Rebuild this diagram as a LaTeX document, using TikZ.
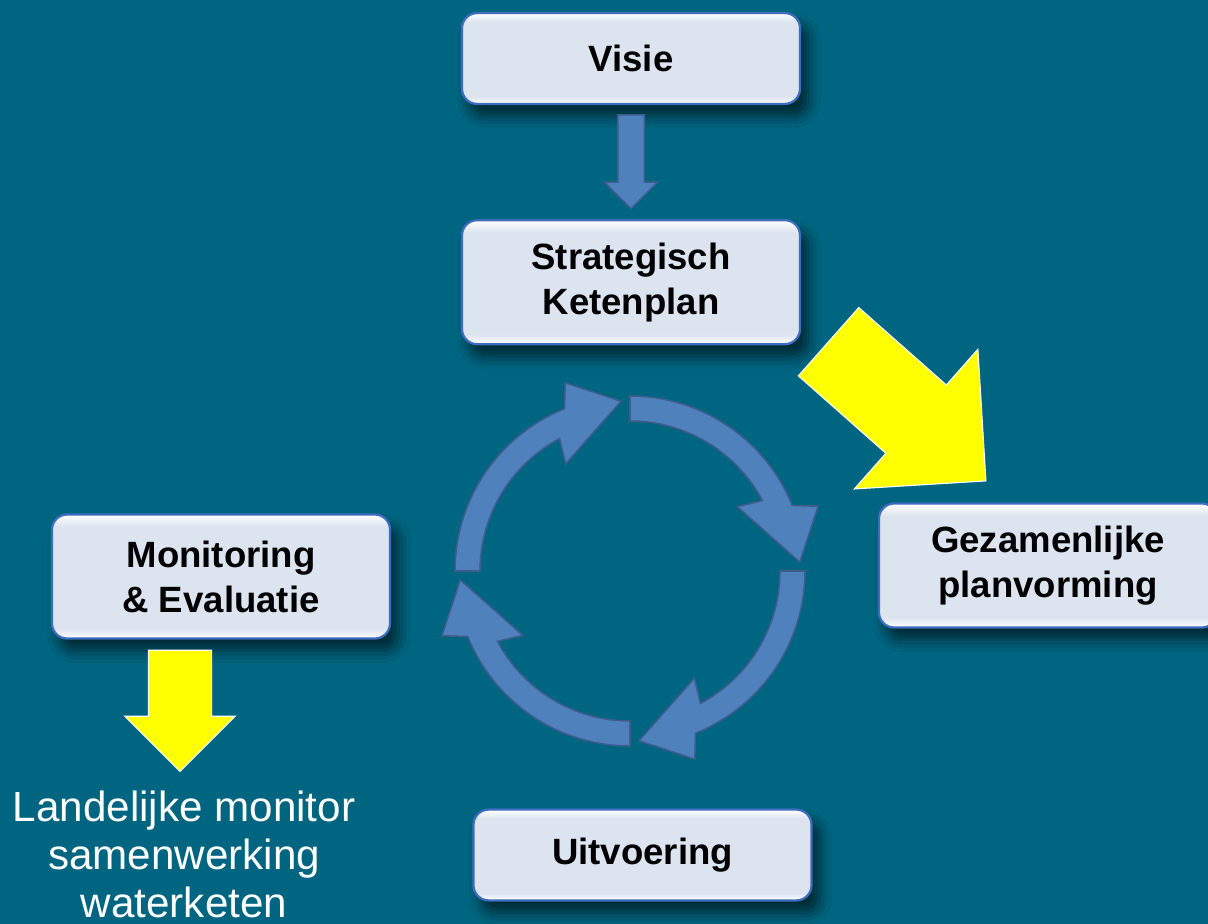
\documentclass[tikz,border=0pt]{standalone}
\usepackage{fontspec}
\setmainfont{Liberation Sans}
\usepackage{xcolor}
\usetikzlibrary{positioning,calc,shapes.arrows,shadows.blur}

\definecolor{bgteal}{RGB}{0,101,128}
\definecolor{boxfill}{RGB}{220,228,240}
\definecolor{boxline}{RGB}{62,108,190}
\definecolor{cycfill}{RGB}{79,129,189}
\definecolor{cycline}{RGB}{62,92,140}
\definecolor{signyellow}{RGB}{255,255,0}

% flat box with white rims
\pgfdeclareverticalshading{boxshade}{100bp}{color(0bp)=(white); color(25bp)=(white);
	color(29bp)=(boxfill); color(70bp)=(boxfill); color(75bp)=(white); color(100bp)=(white)}

\tikzset{
	stagebox/.style={rounded corners=0.38cm, draw=boxline, line width=1.6pt,
		shading=boxshade,
		minimum width=8.45cm, minimum height=2.27cm, align=center,
		font=\fontsize{26}{32}\selectfont\bfseries,
		blur shadow={shadow xshift=0.2cm, shadow yshift=-0.3cm, shadow blur radius=0.3cm, shadow opacity=60}},
	tallbox/.style={minimum height=3.1cm},
	blockarrow/.style={single arrow, anchor=tail, single arrow tip angle=90, inner xsep=0pt},
	bluearrow/.style={blockarrow, fill=cycfill, draw=cycline, line width=1.1pt},
	yellowarrow/.style={blockarrow, fill=signyellow, draw=white, line width=0.8pt},
	cycarrow/.style={fill=cycfill, draw=cycline, line width=1.1pt, line join=miter},
	landtext/.style={text=white, align=center, inner sep=0pt, font=\fontsize{30}{34}\selectfont},
}

\begin{document}
\begin{tikzpicture}[x=0.025cm,y=-0.025cm]
	\fill[bgteal] (0,0) rectangle (1208,924);
	\useasboundingbox (0,0) rectangle (1208,924);
	%
	\node[stagebox] (visie) at (631,58.5) {Visie};
	\node[stagebox,tallbox,below=2.85cm of visie] (strat) {Strategisch\\Ketenplan};
	\node[stagebox,tallbox] (gezam) at (1048,565.5) {Gezamenlijke\\planvorming};
	\node[stagebox,tallbox] (monit) at (221,576.5) {Monitoring\\\& Evaluatie};
	\node[stagebox] (uitv) at (642.5,855) {Uitvoering};
	%
	\node[bluearrow, rotate=-90, minimum height=2.35cm, inner ysep=0.3125cm,
		single arrow head extend=0.3375cm] (visarrow) at ($(visie.south)+(0,9)$) {};
	\node[yellowarrow, rotate=-41.5, minimum height=5.25cm, inner ysep=1.125cm,
		single arrow head extend=1.19cm] (planarrow) at ($(strat.south east)+(27,-4)$) {};
	\node[yellowarrow, rotate=-90, minimum height=3.03cm, inner ysep=0.775cm,
		single arrow head extend=0.59cm] (monarrow) at ($(monit.south)+(-41,10)$) {};
	%
	\node[landtext, anchor=north] (land) at (184,791) {Landelijke monitor\\samenwerking\\waterketen};
	%
	% cycle
	\begin{scope}[shift={(630,571)}, yscale=-1]
		\foreach \s in {180,90,0,-90}
			\draw[cycarrow] (\s:175) arc[start angle=\s, end angle=\s-68, radius=175]
				-- (\s-71:199) -- (\s-87:170) -- (\s-59:125) -- (\s-62:150)
				arc[start angle=\s-62, end angle=\s, radius=150] -- cycle;
	\end{scope}
\end{tikzpicture}
\end{document}
